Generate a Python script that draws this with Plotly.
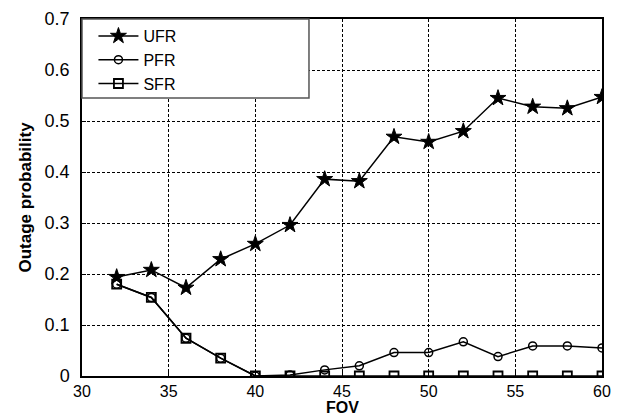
import plotly.graph_objects as go

fov = [32, 34, 36, 38, 40, 42, 44, 46, 48, 50, 52, 54, 56, 58, 60]
ufr = [0.194, 0.208, 0.173, 0.229, 0.259, 0.296, 0.386, 0.382, 0.469, 0.459, 0.480, 0.545, 0.528, 0.525, 0.547]
pfr = [0.180, 0.154, 0.074, 0.035, 0.0, 0.002, 0.012, 0.020, 0.046, 0.046, 0.067, 0.038, 0.059, 0.059, 0.055]
sfr = [0.180, 0.154, 0.074, 0.035, 0.0, 0.0, 0.0, 0.0, 0.0, 0.0, 0.0, 0.0, 0.0, 0.0, 0.0]

x_ticks = [30, 35, 40, 45, 50, 55, 60]
y_ticks = [0, 0.1, 0.2, 0.3, 0.4, 0.5, 0.6, 0.7]
y_tick_labels = ["0", "0.1", "0.2", "0.3", "0.4", "0.5", "0.6", "0.7"]

fig = go.Figure()
fig.add_trace(go.Scatter(x=fov, y=ufr, name="UFR", mode="lines+markers",
                         line=dict(color="black", width=1.5),
                         marker=dict(symbol="star", size=12, color="black",
                                     line=dict(color="black", width=1))))
fig.add_trace(go.Scatter(x=fov, y=pfr, name="PFR", mode="lines+markers",
                         line=dict(color="black", width=1.5),
                         marker=dict(symbol="circle-open", size=8, color="black",
                                     line=dict(color="black", width=1.5))))
fig.add_trace(go.Scatter(x=fov, y=sfr, name="SFR", mode="lines+markers",
                         line=dict(color="black", width=1.5),
                         marker=dict(symbol="square-open", size=9, color="black",
                                     line=dict(color="black", width=1.8))))

fig.add_shape(type="rect", xref="paper", yref="paper",
              x0=0, x1=0.4365, y0=0.779, y1=1,
              line=dict(color="#555555", width=1.5), fillcolor="white", layer="above")

# x-axis title as an annotation just below the tick labels
fig.add_annotation(text="<b>FOV</b>", xref="paper", yref="paper", x=0.5, y=-0.062,
                   xanchor="center", yanchor="top", showarrow=False,
                   font=dict(size=16, color="black"), borderpad=0)

grid_dash = "3px,2px"

fig.update_layout(
    width=615, height=411,
    margin=dict(l=74, r=21, t=11, b=43),
    paper_bgcolor="white", plot_bgcolor="white",
    font=dict(family="Arial, Liberation Sans, sans-serif", color="black"),
    legend=dict(x=0.022, y=1.0, xanchor="left", yanchor="top",
                bgcolor="rgba(0,0,0,0)", borderwidth=0,
                font=dict(size=16, color="black"), tracegroupgap=0,
                itemwidth=40),
    xaxis=dict(range=[30, 60], tickvals=x_ticks, ticks="inside", ticklen=4,
               tickcolor="black", showline=True, linecolor="black", linewidth=1.5,
               mirror=True, showgrid=True, gridcolor="black", griddash=grid_dash,
               gridwidth=1, zeroline=False, tickfont=dict(size=16),
               ticklabelstandoff=0, automargin=False),
    yaxis=dict(range=[0, 0.7], tickvals=y_ticks, ticktext=y_tick_labels,
               ticks="inside", ticklen=4, tickcolor="black", showline=True,
               linecolor="black", linewidth=1.5, mirror=True, showgrid=True,
               gridcolor="black", griddash=grid_dash, gridwidth=1, zeroline=False,
               tickfont=dict(size=18), ticklabelstandoff=7, automargin=False,
               title=dict(text="<b>Outage probability</b>", font=dict(size=17), standoff=9)),
)

fig.write_html("out.html")
